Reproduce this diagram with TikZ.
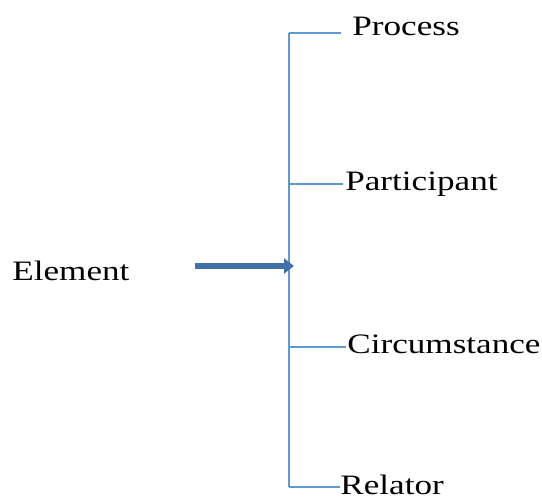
\documentclass[tikz,border=0pt]{standalone}
\usepackage{fontspec}
\setmainfont{Liberation Serif}[FakeStretch=1.25]
\usetikzlibrary{arrows.meta}
\definecolor{spineblue}{RGB}{91,155,213}
\definecolor{arrowblue}{RGB}{65,113,170}

\begin{document}
\begin{tikzpicture}[x=0.02cm,y=-0.02cm,
  word/.style={anchor=base west,inner ysep=0pt,font=\fontsize{16}{19}\selectfont},
  branch/.style={spineblue,line width=0.8pt},
  bigarrow/.style={arrowblue,line width=3.2pt,-{Triangle[length=0.2cm,width=0.3cm]}}]
\useasboundingbox (0,0) rectangle (542,498);

% spine and the points on it
\coordinate (s1) at (289,33);
\coordinate (s2) at (289,184);
\coordinate (s3) at (289,347);
\coordinate (s4) at (289,487);
\draw[branch] (s1) -- (s4);

% labels
\node[word,inner xsep=0.22cm] (proc) at (341,35) {Process};
\node[word,inner xsep=0.04cm] (part) at (343,190) {Participant};
\node[word,inner xsep=0.02cm] (circ) at (346,353) {Circumstance};
\node[word,inner xsep=0pt] (rel) at (340,494) {Relator};
\node[word,inner xsep=0pt] (elem) at (12,280) {Element};

\draw[branch] (s1) -- (proc.west |- s1);
\draw[branch] (s2) -- (part.west |- s2);
\draw[branch] (s3) -- (circ.west |- s3);
\draw[branch] (s4) -- (rel.west |- s4);

% arrow into the spine
\coordinate (a0) at (195,266);
\coordinate (a1) at (294,266);
\draw[bigarrow] (a0) -- (a1);
\end{tikzpicture}
\end{document}
